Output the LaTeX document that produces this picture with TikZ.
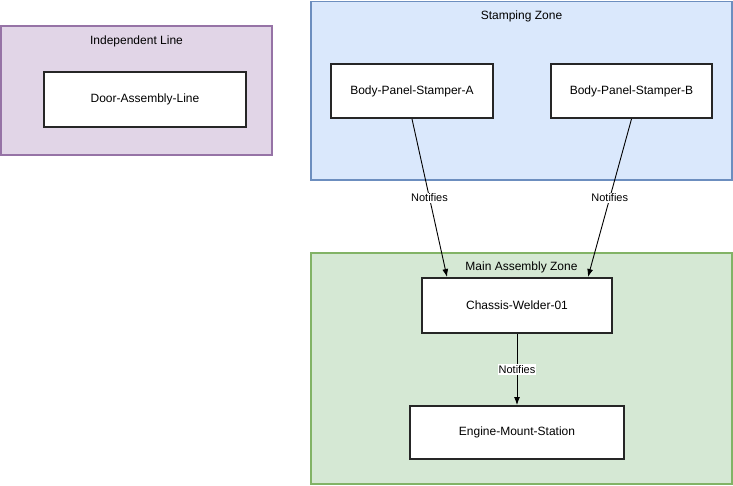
\documentclass[tikz,border=0pt]{standalone}
\usepackage{fontspec}
\setmainfont{Liberation Sans}
\usetikzlibrary{arrows.meta}
\definecolor{purplefill}{HTML}{E1D5E7}
\definecolor{purpleline}{HTML}{9673A6}
\definecolor{bluefill}{HTML}{DAE8FC}
\definecolor{blueline}{HTML}{6C8EBF}
\definecolor{greenfill}{HTML}{D5E8D4}
\definecolor{greenline}{HTML}{82B366}
\tikzset{
  zone/.style={draw=#1line, fill=#1fill, line width=1.5pt},
  zonetitle/.style={font=\fontsize{12}{14}\selectfont, inner sep=0pt},
  station/.style={draw=black!85, fill=white, line width=2pt, font=\fontsize{12}{14}\selectfont, inner sep=0pt},
  notify/.style={-{Latex[length=8pt,width=6pt]}, line width=0.9pt},
  notelabel/.style={fill=white, font=\fontsize{11}{13}\selectfont, inner sep=1pt}
}

\begin{document}
\begin{tikzpicture}[x=1pt,y=-1pt]
     \useasboundingbox (0,0) rectangle (733,485);
     % zones
     \draw[zone=purple] (1,26) rectangle (272,155);
     \draw[zone=blue] (311,1.5) rectangle (732,180);
     \draw[zone=green] (311,253) rectangle (732,484);
     \node[zonetitle] (indtitle) at (136.5,41) {Independent Line};
     \node[zonetitle] (stamptitle) at (521.5,16) {Stamping Zone};
     \node[zonetitle] (maintitle) at (521.5,267) {Main Assembly Zone};
     % stations
     \node[station, minimum width=202pt, minimum height=55pt] (door) at (145,99.5) {Door-Assembly-Line};
     \node[station, minimum width=162pt, minimum height=54pt] (stampA) at (412,91) {Body-Panel-Stamper-A};
     \node[station, minimum width=161pt, minimum height=54pt] (stampB) at (631.5,91) {Body-Panel-Stamper-B};
     \node[station, minimum width=190pt, minimum height=55pt] (welder) at (517,305.5) {Chassis-Welder-01};
     \node[station, minimum width=214pt, minimum height=53pt] (engine) at (517,432.5) {Engine-Mount-Station};
     % links
     \draw[notify] (stampA.south) -- node[notelabel, pos=0.5] {Notifies} ([xshift=-70pt]welder.north);
     \draw[notify] (stampB.south) -- node[notelabel, pos=0.5] {Notifies} ([xshift=71pt]welder.north);
     \draw[notify] (welder.south) -- node[notelabel, pos=0.5] {Notifies} (engine.north);
\end{tikzpicture}
\end{document}
